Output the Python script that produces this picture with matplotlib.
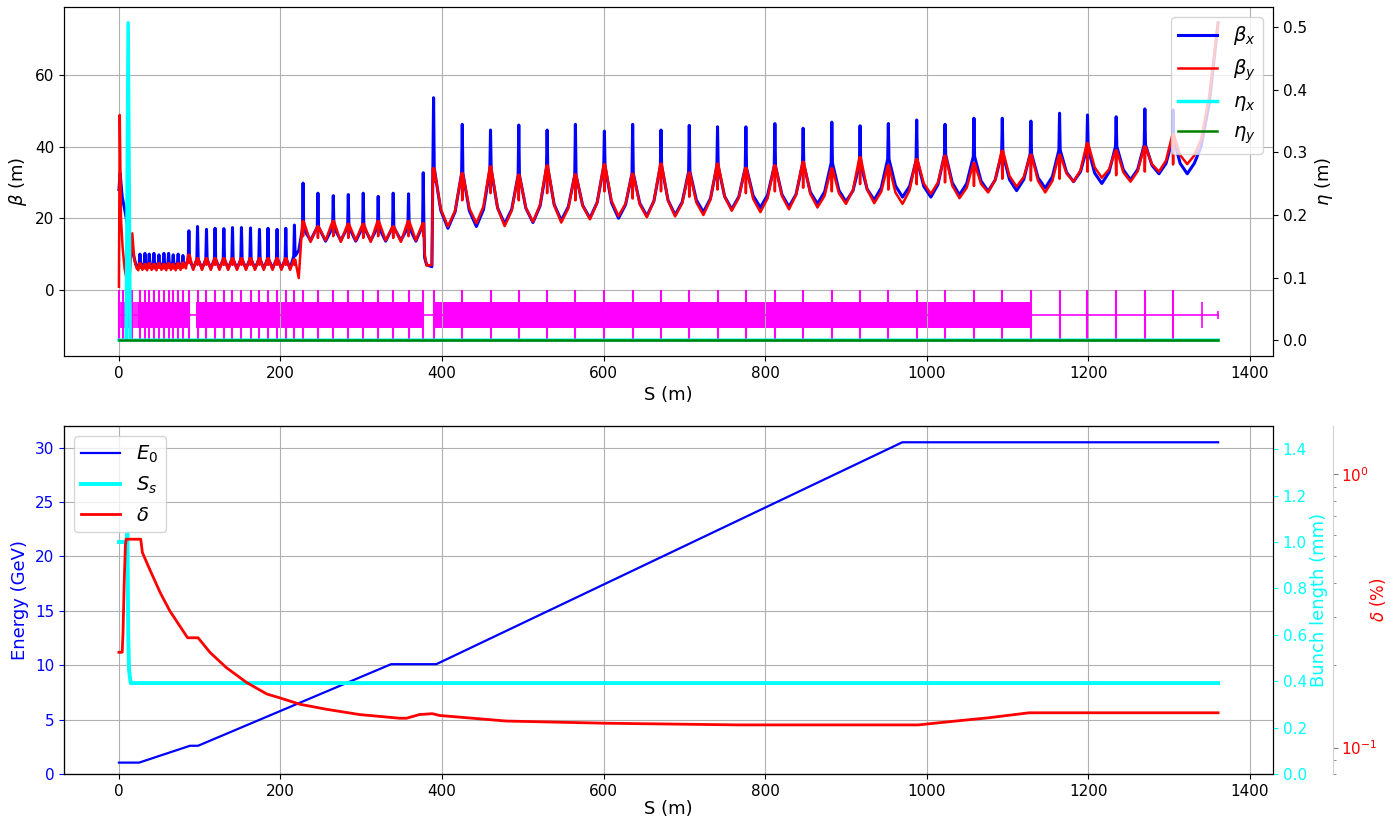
import matplotlib.pyplot as plt

plt.rcParams['xtick.labelsize'] = 11
plt.rcParams['ytick.labelsize'] = 11

# ---------------- top panel data ----------------
# matching section at the start (s in m, beta in m)
s_start_x = [0, 1.5, 4, 8, 11.5, 14.5, 17.5, 21, 24]
bx_start = [28, 32.5, 26, 21.4, 16.7, 14, 10.2, 7, 6.5]
s_start_y = [0, 1.0, 2.5, 4.5, 7, 9, 11, 13, 16.5, 19, 22, 24]
by_start = [0.9, 48.8, 20, 12, 6, 3.5, 7.5, 2.5, 15.8, 8.5, 6, 5.5]

# section B: short cells
qB = [26, 32.2, 37.5, 43.3, 49.5, 55.7, 61.5, 67.2, 73.3, 79.2]
bxB_pk = [10.0, 10.2, 10.0, 10.2, 9.8, 10.2, 10.2, 9.8, 10.0, 9.6]
bxB_sh = [7.5, 7.5, 7.5, 7.5, 7.5, 7.5, 7.5, 7.5, 7.5, 7.5]
bxB_tr = [6.8, 6.8, 6.8, 6.8, 6.8, 6.8, 6.8, 6.8, 6.8, 7.0]
byB_pk = [7.4, 7.2, 7.4, 7.2, 7.4, 7.2, 7.4, 7.2, 7.4, 7.6]
byB_dp = [6.2, 6.0, 6.2, 6.0, 6.2, 6.0, 6.2, 6.0, 6.2, 6.2]
byB_tr = [5.6, 5.5, 5.6, 5.5, 5.6, 5.5, 5.6, 5.5, 5.6, 6.0]

# section C
qC = [86.6, 97.3, 108.4, 119, 129.9, 140.6, 151.7, 162.9, 174, 184.6, 195.8, 206.6, 217.3]
bxC_pk = [16.5, 17.7, 16.9, 17.2, 17.1, 17.4, 17.4, 17.3, 16.9, 17.2, 16.9, 17.2, 18.1]
bxC_sh = [8.5, 8.5, 8.5, 8.5, 8.5, 8.5, 8.5, 8.5, 8.5, 8.5, 8.5, 8.5, 9.5]
bxC_tr = [6.0, 6.0, 6.0, 6.0, 6.0, 6.0, 6.0, 6.0, 6.0, 6.0, 6.0, 6.0, 11.0]
byC_pk = [9.8, 8.8, 8.8, 8.8, 8.8, 8.8, 8.8, 8.8, 8.8, 8.8, 8.8, 8.8, 8.5]
byC_dp = [7.5, 7.0, 7.0, 7.0, 7.0, 7.0, 7.0, 7.0, 7.0, 7.0, 7.0, 7.0, 7.0]
byC_tr = [5.6, 5.6, 5.6, 5.6, 5.6, 5.6, 5.6, 5.6, 5.6, 5.6, 5.6, 5.6, 3.3]

# section D
qD = [228, 246.4, 265.4, 284, 302.5, 321, 339.6, 358.6, 376.8]
bxD_pk = [29.8, 27.0, 26.3, 26.6, 27.0, 26.1, 27.0, 26.8, 32.7]
bxD_sh = [17.0, 17.5, 17.5, 17.5, 17.5, 17.5, 17.5, 17.5, 18.0]
bxD_tr = [13.8, 13.6, 13.8, 13.6, 13.8, 13.6, 13.8, 13.6]
byD_pk = [19.1, 17.7, 19.2, 18.4, 18.4, 19.2, 17.7, 19.2, 18.6]
byD_dp = [15.0, 14.5, 15.0, 14.5, 14.5, 15.0, 14.5, 15.0, 15.0]
byD_tr = [13.4, 13.8, 13.4, 13.8, 13.4, 13.8, 13.4, 13.8]

# drop before the long cells
s_gap = [378.5, 381, 387.5]
bx_gap = [9.0, 7.0, 6.5]
by_gap = [10.0, 6.8, 7.0]

# section E: long cells
qE = [389.6, 425.1, 460.1, 495.1, 530.2, 565.2, 601.1, 636.1, 671.2, 706.2,
      741.2, 776.3, 812.2, 847.2, 882.7, 917.7, 952.7, 987.8, 1022.9, 1058.7,
      1093.8, 1129.2, 1164.7, 1199.3, 1234.8, 1270.3, 1305.3]
qE_next = 1340.3
bxE_pk = [53.6, 46.2, 44.6, 46.0, 44.6, 46.2, 44.3, 46.2, 44.6, 45.9, 45.5, 45.5, 46.4, 45.1,
          46.8, 45.8, 46.4, 47.4, 46.2, 47.9, 47.9, 47.1, 49.3, 48.8, 48.3, 50.5, 50.2]
bxE_sh = [34.0, 32.5, 33.5, 32.0, 34.0, 32.0, 34.5, 32.5, 34.5, 33.0, 34.5, 34.0, 34.5, 35.0,
          35.4, 35.0, 36.5, 36.0, 37.7, 37.2, 38.0, 38.0, 39.0, 39.5, 40.0, 40.5, 42.0]
bxE_qa = [22.2, 22.1, 22.9, 22.8, 23.8, 23.6, 24.4, 24.2, 25.0, 25.1, 26.1, 26.3, 26.6, 27.3,
          27.8, 28.1, 29.1, 28.9, 29.9, 30.4, 30.8, 31.3, 32.8, 32.6, 33.5, 34.8, 35.3]
bxE_tr = [17.2, 17.7, 18.4, 18.8, 19.4, 20.0, 20.0, 20.6, 20.9, 21.7, 22.5, 23.0, 23.2, 24.0,
          24.6, 25.1, 25.9, 25.9, 26.5, 27.5, 27.7, 28.4, 30.2, 29.7, 30.7, 32.4, 32.4]
bxE_qb = [21.8, 22.4, 22.5, 23.4, 23.2, 24.4, 23.8, 24.8, 24.5, 25.5, 26.0, 26.5, 26.7, 27.4,
          27.7, 28.5, 28.9, 29.4, 29.7, 30.7, 30.8, 31.6, 33.0, 32.8, 33.6, 35.3, 35.3]
byE_pk = [33.9, 32.5, 34.4, 32.1, 34.7, 32.2, 35.0, 32.4, 35.2, 32.7, 35.2, 34.0, 34.7, 35.7,
          33.9, 37.0, 34.7, 36.5, 37.4, 35.3, 38.8, 37.7, 37.7, 40.9, 38.9, 40.0, 43.4]
byE_dp = [30.0, 25.0, 27.0, 25.0, 27.0, 25.0, 27.5, 25.5, 27.5, 26.0, 28.0, 27.0, 27.5, 28.5,
          27.5, 29.5, 28.0, 29.5, 30.0, 29.0, 31.0, 30.5, 31.0, 33.0, 32.0, 33.0, 35.0]
byE_qa = [22.6, 22.8, 22.8, 22.9, 23.6, 23.5, 24.9, 23.9, 24.9, 24.4, 26.0, 25.4, 26.2, 26.8,
          27.0, 28.0, 27.2, 29.7, 29.1, 29.6, 31.8, 30.4, 32.5, 34.2, 32.8, 35.1, 37.6]
byE_tr = [17.7, 18.6, 17.8, 19.0, 18.8, 19.7, 20.6, 20.3, 20.5, 20.9, 22.1, 21.7, 22.5, 23.0,
          24.0, 24.2, 24.0, 26.8, 25.6, 27.2, 28.8, 27.2, 30.2, 31.3, 30.2, 33.0, 35.1]
byE_qb = [22.1, 23.3, 22.1, 23.7, 22.8, 24.3, 24.1, 24.8, 24.2, 25.2, 25.7, 25.6, 26.5, 26.3,
          27.9, 27.4, 27.8, 30.0, 28.5, 30.7, 31.5, 30.4, 33.4, 33.6, 33.1, 36.1, 37.5]

# rise at the end of the line
s_end = [1340, 1350, 1361]
bx_end = [40.0, 52.0, 74.5]
by_end = [42.0, 54.0, 74.5]

# dispersion
eta_s = [0, 9.0, 11.4, 13.9, 1361]
eta_x = [0, 0, 0.507, 0, 0]
etay_s = [0, 1361]
eta_y = [0, 0]

# lattice layout
latt_tall_start = [0.3, 5.3, 9.4, 15.6]
latt_short = [2, 3.5, 7, 12, 13.5, 18, 20, 22, 1341]
band_start = [23.5, 96, 390]
band_end = [88, 376, 1129]

# ---------------- bottom panel data ----------------
s_E = [0, 25, 88, 98, 337, 393, 970, 1361]
E0 = [1.05, 1.05, 2.6, 2.6, 10.1, 10.1, 30.5, 30.5]

s_Ss = [0, 9, 10.5, 11.5, 12.5, 14.5, 1361]
Ss = [1.0, 1.0, 1.04, 0.6, 0.45, 0.392, 0.392]

s_d = [0, 4, 5, 6.5, 8, 9, 27, 29, 38, 51, 63, 85, 98, 112.6, 133, 158, 183, 199, 224, 257,
       298, 347.5, 356, 372, 388, 397, 479.5, 603, 768, 990, 1036, 1077, 1127, 1361]
delta = [0.223, 0.223, 0.26, 0.4, 0.55, 0.578, 0.578, 0.517, 0.449, 0.369, 0.316, 0.252,
         0.252, 0.223, 0.196, 0.173, 0.157, 0.152, 0.144, 0.138, 0.132, 0.128, 0.128, 0.132,
         0.133, 0.131, 0.125, 0.1227, 0.121, 0.121, 0.125, 0.1285, 0.134, 0.134]


def chain(q, top, side, mid, q_next=None, qa=None, qb=None, w=0.8):
    # walk along the quads: shoulder, spike, shoulder, then the values between quads
    s, v = [], []
    for i in range(len(q)):
        s += [q[i] - w, q[i], q[i] + w]
        v += [side[i], top[i], side[i]]
        if i < len(mid):
            nxt = q[i + 1] if i + 1 < len(q) else q_next
            L = nxt - q[i]
            if qa is not None:
                s += [q[i] + L / 4, q[i] + L / 2, q[i] + 3 * L / 4]
                v += [qa[i], mid[i], qb[i]]
            else:
                s += [q[i] + L / 2]
                v += [mid[i]]
    return s, v


def join(parts):
    s, v = [], []
    for ps, pv in parts:
        s += list(ps)
        v += list(pv)
    return s, v


def beta_x():
    return join([(s_start_x, bx_start),
                 chain(qB, bxB_pk, bxB_sh, bxB_tr, qC[0]),
                 chain(qC, bxC_pk, bxC_sh, bxC_tr, qD[0]),
                 chain(qD, bxD_pk, bxD_sh, bxD_tr),
                 (s_gap, bx_gap),
                 chain(qE, bxE_pk, bxE_sh, bxE_tr, qE_next, bxE_qa, bxE_qb),
                 (s_end, bx_end)])


def beta_y():
    return join([(s_start_y, by_start),
                 chain(qB, byB_dp, byB_pk, byB_tr, qC[0]),
                 chain(qC, byC_dp, byC_pk, byC_tr, qD[0]),
                 chain(qD, byD_dp, byD_pk, byD_tr),
                 (s_gap, by_gap),
                 chain(qE, byE_dp, byE_pk, byE_tr, qE_next, byE_qa, byE_qb),
                 (s_end, by_end)])


fig = plt.figure(figsize=(13.91, 8.19), dpi=100)
cyan = '#00ffff'
mag = '#ff00ff'

# ---------------- top panel ----------------
ax1 = fig.add_axes([0.046, 0.5653, 0.8692, 0.4262])
sx, bx = beta_x()
sy, by = beta_y()
l1, = ax1.plot(sx, bx, color='b', lw=2.2, label=r'$\beta_x$')
l2, = ax1.plot(sy, by, color='r', lw=1.8, label=r'$\beta_y$')

# lattice drawing under the beta functions
ax1.plot([0, 1361], [-7, -7], color=mag, lw=1.2)
ax1.broken_barh([(a, b - a) for a, b in zip(band_start, band_end)], (-10.5, 7.2),
                color=mag, lw=0)
ax1.vlines(latt_tall_start + qB + qC + qD + qE, -14, 0, color=mag, lw=1.5)
ax1.vlines(latt_short, -10.5, -3.3, color=mag, lw=1.2)
ax1.vlines([1361], -8, -6, color=mag, lw=1.2)

ax1.set_xlabel('S (m)', fontsize=13)
ax1.set_ylabel(r'$\beta$ (m)', fontsize=13)
ax1.grid(True)

ax1b = ax1.twinx()
l3, = ax1b.plot(eta_s, eta_x, color=cyan, lw=2.5, label=r'$\eta_x$')
l4, = ax1b.plot(etay_s, eta_y, color='g', lw=1.8, label=r'$\eta_y$')
ax1b.set_ylabel(r'$\eta$ (m)', fontsize=13)
ax1b.legend(handles=[l1, l2, l3, l4], loc='upper right', fontsize=14)

# ---------------- bottom panel ----------------
ax2 = fig.add_axes([0.046, 0.0549, 0.8692, 0.425])
m1, = ax2.plot(s_E, E0, color='b', lw=1.6, label=r'$E_0$')
ax2.set_ylim(0, 32)
ax2.set_xlabel('S (m)', fontsize=13, labelpad=1)
ax2.set_ylabel('Energy (GeV)', color='b', fontsize=13)
ax2.tick_params(axis='y', colors='b')
ax2.grid(True)

ax3 = ax2.twinx()
m2, = ax3.plot(s_Ss, Ss, color=cyan, lw=2.8, label=r'$S_s$')
ax3.set_ylim(0, 1.5)
ax3.set_ylabel('Bunch length (mm)', color=cyan, fontsize=13, labelpad=2)
ax3.tick_params(axis='y', colors=cyan)

ax4 = ax2.twinx()
ax4.spines['right'].set_position(('axes', 1.05))
ax4.spines['right'].set_color('lightgray')
m3, = ax4.plot(s_d, delta, color='r', lw=2, label=r'$\delta$')
ax4.set_yscale('log')
ax4.set_ylim(0.08, 1.5)
ax4.set_ylabel(r'$\delta$ (%)', color='r', fontsize=12, labelpad=-7)
ax4.tick_params(axis='y', which='both', labelcolor='r', color='gray', pad=2)
ax4.legend(handles=[m1, m2, m3], loc='upper left', fontsize=14)

fig.savefig('out.png', dpi=100)
